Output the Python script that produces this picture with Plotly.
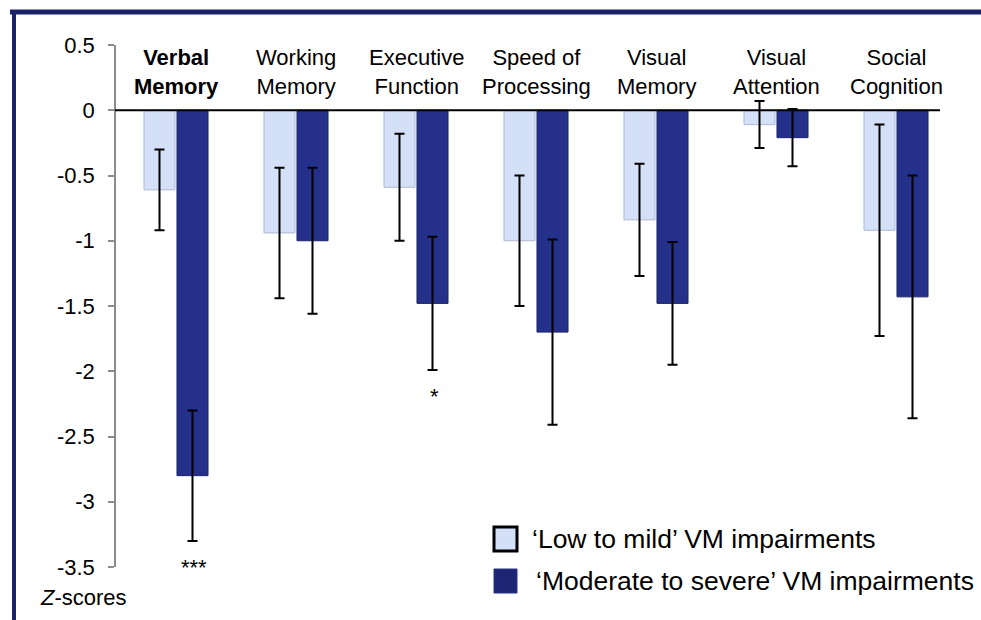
import plotly.graph_objects as go

categories = ["Verbal<br>Memory", "Working<br>Memory", "Executive<br>Function", "Speed of<br>Processing",
              "Visual<br>Memory", "Visual<br>Attention", "Social<br>Cognition"]
bold_category = "Verbal<br>Memory"
series_names = ["\u2018Low to mild\u2019 VM impairments", "\u2018Moderate to severe\u2019 VM impairments"]
low_mild = [-0.61, -0.94, -0.59, -1.00, -0.84, -0.11, -0.92]
low_mild_err = [0.31, 0.50, 0.41, 0.50, 0.43, 0.18, 0.81]
mod_severe = [-2.80, -1.00, -1.48, -1.70, -1.48, -0.21, -1.43]
mod_severe_err = [0.50, 0.56, 0.51, 0.71, 0.47, 0.22, 0.93]
significance = ["***", "", "*", "", "", "", ""]
tick_vals = [0.5, 0, -0.5, -1, -1.5, -2, -2.5, -3, -3.5]
tick_text = ["0.5", "0", "-0.5", "-1", "-1.5", "-2", "-2.5", "-3", "-3.5"]

FONT = "Arial, Liberation Sans, sans-serif"
W, H = 981, 620
ML, MR, MT, MB = 116, 25, 45, 53


def pxx(x):
    return (x - ML) / (W - ML - MR)


def pxy(y):
    return (H - MB - y) / (H - MT - MB)


fig = go.Figure()
fig.add_trace(go.Bar(
    x=categories, y=low_mild, name=series_names[0],
    marker=dict(color="#D4E0F7", line=dict(color="#AEB9D0", width=1)),
    error_y=dict(type="data", array=low_mild_err, color="black", thickness=2, width=5),
    showlegend=False,
))
fig.add_trace(go.Bar(
    x=categories, y=mod_severe, name=series_names[1],
    marker=dict(color="#25308A", line=dict(color="#1B236C", width=1)),
    error_y=dict(type="data", array=mod_severe_err, color="black", thickness=2, width=5),
    showlegend=False,
))

annotations = []
for c in categories:
    txt = "<b>" + c + "</b>" if c == bold_category else c
    annotations.append(dict(x=c, y=0, xref="x", yref="y", text=txt, showarrow=False,
                            yanchor="bottom", yshift=9, font=dict(size=22, color="black", family=FONT)))

for c, v, e, s in zip(categories, mod_severe, mod_severe_err, significance):
    if s:
        annotations.append(dict(x=c, y=v - e, xref="x", yref="y", text=s, showarrow=False,
                                yanchor="top", yshift=-12, xshift=18,
                                font=dict(size=22, color="black", family=FONT)))

annotations.append(dict(x=pxx(38), y=pxy(597), xref="paper", yref="paper", text="<i>Z</i>-scores",
                        showarrow=False, xanchor="left", yanchor="middle",
                        font=dict(size=22, color="black", family=FONT)))

# manual legend
leg_rows = [(539, "#D4E0F7", "black", 3, 530), (581, "#1E2574", "#2A3488", 1, 534)]
shapes = []
for (yc, fill, edge, lw, tx), name in zip(leg_rows, series_names):
    shapes.append(dict(type="rect", xref="paper", yref="paper",
                       x0=pxx(494), x1=pxx(517), y0=pxy(yc - 12), y1=pxy(yc + 12),
                       fillcolor=fill, line=dict(color=edge, width=lw)))
    annotations.append(dict(x=pxx(tx), y=pxy(yc), xref="paper", yref="paper", text=name,
                            showarrow=False, xanchor="left", yanchor="middle",
                            font=dict(size=26.5, color="black", family=FONT)))

# zero line
shapes.append(dict(type="line", xref="paper", yref="y", x0=pxx(115), x1=pxx(940), y0=0, y1=0,
                   line=dict(color="black", width=2)))
# frame (top and left navy border)
shapes.append(dict(type="line", xref="paper", yref="paper", x0=pxx(10), x1=pxx(990),
                   y0=pxy(12), y1=pxy(12), line=dict(color="#1B2368", width=5)))
shapes.append(dict(type="line", xref="paper", yref="paper", x0=pxx(14), x1=pxx(14),
                   y0=pxy(10), y1=pxy(630), line=dict(color="#1B2368", width=4)))

fig.update_layout(
    width=W, height=H,
    margin=dict(l=ML, r=MR, t=MT, b=MB),
    paper_bgcolor="white", plot_bgcolor="white",
    barmode="group", bargap=0.45, bargroupgap=0.06,
    font=dict(family=FONT, color="black"),
    annotations=annotations, shapes=shapes,
    xaxis=dict(showticklabels=False, showline=False, showgrid=False, zeroline=False,
               ticks="", range=[-0.5, 6.5]),
    yaxis=dict(range=[-3.5, 0.5], tickvals=tick_vals, ticktext=tick_text,
               showgrid=False, zeroline=False, showline=True, linecolor="#8C8C8C", linewidth=1.5,
               ticks="outside", ticklen=6, tickcolor="#8C8C8C", tickwidth=1.5,
               ticklabelstandoff=9,
               tickfont=dict(size=22, color="black", family=FONT)),
)

fig.write_html("out.html", config={"displayModeBar": False},
               post_script="document.body.style.margin='0';document.body.style.overflow='hidden';")
